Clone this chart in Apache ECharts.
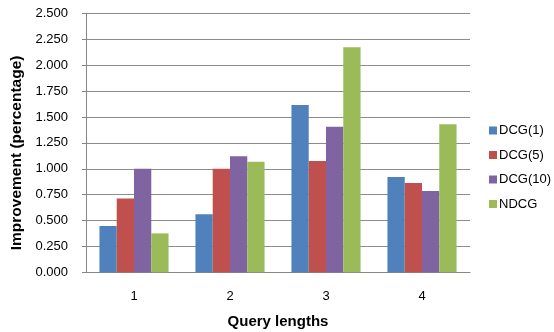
<!DOCTYPE html>
<html><head><meta charset="utf-8">
<script src="https://cdn.jsdelivr.net/npm/echarts@6/dist/echarts.min.js"></script>
<style>html,body{margin:0;padding:0;background:#fff}#c{width:554px;height:332px}</style>
</head><body><div id="c"></div>
<script>
const categories = ['1', '2', '3', '4'];
const seriesNames = ['DCG(1)', 'DCG(5)', 'DCG(10)', 'NDCG'];
const dcg1 = [0.447, 0.560, 1.615, 0.920];
const dcg5 = [0.714, 1.000, 1.074, 0.862];
const dcg10 = [1.000, 1.120, 1.405, 0.785];
const ndcg = [0.376, 1.068, 2.175, 1.431];
const colors = ['#4F81BD', '#C0504D', '#8064A2', '#9BBB59'];
const values = [dcg1, dcg5, dcg10, ndcg];

const chart = echarts.init(document.getElementById('c'), null, {renderer: 'canvas'});
chart.setOption({
  animation: false,
  textStyle: {fontFamily: 'Liberation Sans, Arial, sans-serif'},
  grid: {left: 86, right: 84, top: 13.5, bottom: 59.7, containLabel: false, outerBoundsMode: 'none'},
  legend: {
    orient: 'vertical', left: 484, top: 119, itemGap: 11.5,
    itemWidth: 8, itemHeight: 8, icon: 'rect',
    textStyle: {fontSize: 13, color: '#000', padding: [0, 0, 0, -3]},
    data: seriesNames
  },
  xAxis: {
    type: 'category', data: categories,
    name: 'Query lengths', nameLocation: 'middle', nameGap: 42,
    nameTextStyle: {fontSize: 15, fontWeight: 'bold', color: '#000'},
    axisLine: {lineStyle: {color: '#868686'}},
    axisTick: {alignWithLabel: true, length: 4, lineStyle: {color: '#868686'}},
    axisLabel: {fontSize: 13, color: '#000', margin: 18}
  },
  yAxis: {
    type: 'value', min: 0, max: 2.5, interval: 0.25,
    name: 'Improvement (percentage)', nameLocation: 'middle', nameGap: 58,
    nameTextStyle: {fontSize: 15.5, fontWeight: 'bold', color: '#000', padding: [0, 20, 0, 0]},
    axisLine: {show: true, lineStyle: {color: '#868686'}},
    axisTick: {show: true, length: 4, lineStyle: {color: '#868686'}},
    axisLabel: {fontSize: 13, color: '#000', margin: 18, formatter: v => v.toFixed(3)},
    splitLine: {lineStyle: {color: '#8c8c8c'}}
  },
  series: seriesNames.map((n, i) => ({
    name: n, type: 'bar', data: values[i],
    barGap: '0%', barCategoryGap: '28%',
    itemStyle: {color: colors[i]}
  }))
});
</script></body></html>
